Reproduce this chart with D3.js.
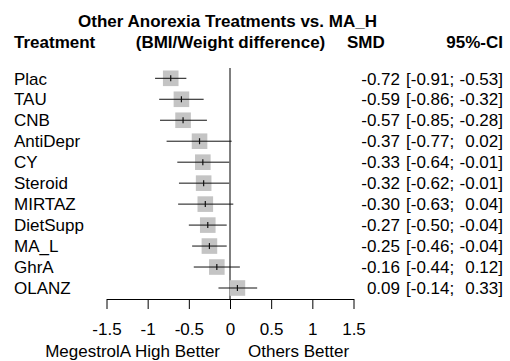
<!DOCTYPE html>
<html>
<head>
<meta charset="utf-8">
<script src="https://cdn.jsdelivr.net/npm/d3@7"></script>
<style>
  html, body { margin: 0; padding: 0; background: #fff; }
  svg { display: block; font-family: "Liberation Sans", Arial, Helvetica, sans-serif; }
  text { white-space: pre; }
</style>
</head>
<body>
<svg id="chart" width="510" height="361"></svg>
<script>
// Forest plot data: standardized mean differences vs. MA_H
const treatments = ["Plac", "TAU", "CNB", "AntiDepr", "CY", "Steroid", "MIRTAZ", "DietSupp", "MA_L", "GhrA", "OLANZ"];
const smd   = [-0.72, -0.59, -0.57, -0.37, -0.33, -0.32, -0.30, -0.27, -0.25, -0.16, 0.09];
const lower = [-0.91, -0.86, -0.85, -0.77, -0.64, -0.62, -0.63, -0.50, -0.46, -0.44, -0.14];
const upper = [-0.53, -0.32, -0.28,  0.02, -0.01, -0.01,  0.04, -0.04, -0.04,  0.12,  0.33];
const axisTicks = [-1.5, -1, -0.5, 0, 0.5, 1, 1.5];

const title = "Other Anorexia Treatments vs. MA_H";
const headers = ["Treatment", "(BMI/Weight difference)", "SMD", "95%-CI"];
const sideLabels = ["MegestrolA High Better", "Others Better"];

const rows = treatments.map((t, i) => ({ name: t, est: smd[i], lo: lower[i], hi: upper[i] }));

const svg = d3.select("#chart");
const FS = 17;

const x = d3.scaleLinear().domain([-1.5, 1.5]).range([106.5, 353.5]);
const y = d3.scalePoint().domain(treatments).range([78.3, 288]);
const axisY = 299;
const boxSize = 15.6;

const fmt = v => v.toFixed(2).replace("\u2212", "-");

// Title and column headers
svg.append("text")
  .attr("x", 227.5).attr("y", 27)
  .attr("text-anchor", "middle")
  .attr("font-size", FS).attr("font-weight", "bold")
  .text(title);

const hdrY = 47.5;
svg.append("text").attr("x", 14).attr("y", hdrY)
  .attr("font-size", FS).attr("font-weight", "bold").text(headers[0]);
svg.append("text").attr("x", x(0) + 0.5).attr("y", hdrY).attr("text-anchor", "middle")
  .attr("font-size", FS).attr("font-weight", "bold").text(headers[1]);
svg.append("text").attr("x", 347).attr("y", hdrY)
  .attr("font-size", FS).attr("font-weight", "bold").text(headers[2]);
svg.append("text").attr("x", 503).attr("y", hdrY).attr("text-anchor", "end")
  .attr("font-size", FS).attr("font-weight", "bold").text(headers[3]);

// Reference line at zero effect
svg.append("line")
  .attr("x1", x(0)).attr("x2", x(0))
  .attr("y1", 68).attr("y2", axisY)
  .attr("stroke", "#000").attr("stroke-width", 1);

// Rows
const g = svg.append("g").selectAll("g").data(rows).join("g");

g.append("rect")
  .attr("x", d => x(d.est) - boxSize / 2)
  .attr("y", d => y(d.name) - boxSize / 2)
  .attr("width", boxSize).attr("height", boxSize)
  .attr("fill", "#c4c4c4");

g.append("line")
  .attr("x1", d => x(d.lo)).attr("x2", d => x(d.hi))
  .attr("y1", d => y(d.name)).attr("y2", d => y(d.name))
  .attr("stroke", "#111").attr("stroke-width", 1);

g.append("line")
  .attr("x1", d => x(d.est)).attr("x2", d => x(d.est))
  .attr("y1", d => y(d.name) - 3).attr("y2", d => y(d.name) + 3)
  .attr("stroke", "#111").attr("stroke-width", 1.2);

g.append("text")
  .attr("x", 14).attr("y", d => y(d.name) + 6.2)
  .attr("font-size", FS).text(d => d.name);

g.append("text")
  .attr("x", 400).attr("y", d => y(d.name) + 6.2)
  .attr("text-anchor", "end")
  .attr("font-size", FS).text(d => fmt(d.est));

g.append("text")
  .attr("x", 406).attr("y", d => y(d.name) + 6.2)
  .attr("font-size", FS).text(d => "[" + fmt(d.lo) + ";");

g.append("text")
  .attr("x", 503).attr("y", d => y(d.name) + 6.2)
  .attr("text-anchor", "end")
  .attr("font-size", FS).text(d => fmt(d.hi) + "]");

// Bottom axis
const axis = d3.axisBottom(x)
  .tickValues(axisTicks)
  .tickSize(10)
  .tickSizeOuter(0)
  .tickPadding(14)
  .tickFormat(d => String(d).replace("\u2212", "-"));

const ax = svg.append("g")
  .attr("transform", `translate(0,${axisY})`)
  .call(axis);
ax.select(".domain").attr("stroke", "#000");
ax.selectAll(".tick line").attr("stroke", "#000");
ax.selectAll(".tick text")
  .attr("font-size", FS)
  .attr("font-family", "Liberation Sans, Arial, sans-serif")
  .attr("fill", "#000");

// Direction labels under the axis
svg.append("text").attr("x", 220).attr("y", 356.5).attr("text-anchor", "end")
  .attr("font-size", FS).text(sideLabels[0]);
svg.append("text").attr("x", 248).attr("y", 356.5)
  .attr("font-size", FS).text(sideLabels[1]);
</script>
</body>
</html>
